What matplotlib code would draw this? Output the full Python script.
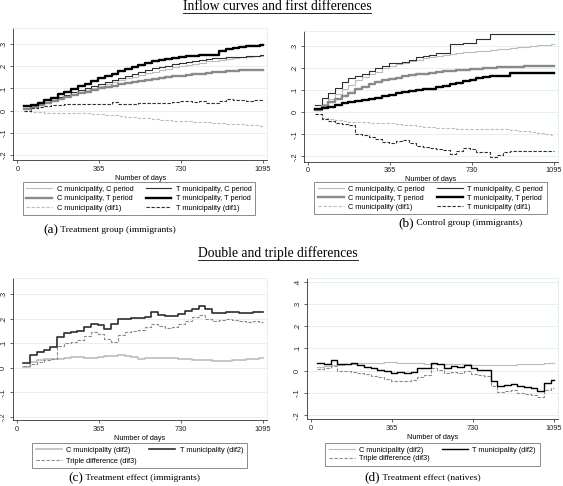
import matplotlib.pyplot as plt
from matplotlib.lines import Line2D

plt.rcParams['font.family'] = ['Liberation Sans', 'DejaVu Sans']

# day grid (steps) shared by all series
DAYS = [30, 60, 90, 120, 150, 180, 210, 240, 270, 300, 330, 360, 390, 420, 450, 480,
        510, 540, 570, 600, 630, 660, 690, 720, 750, 780, 810, 840, 870, 900, 930, 960,
        990, 1020, 1050, 1080, 1095]
X_TICKS = [0, 365, 730, 1095]

# (a) treatment group (immigrants)
A_CC = [0.008, 0.018, 0.027, 0.035, 0.045, 0.056, 0.066, 0.075, 0.084, 0.093, 0.102, 0.111,
        0.120, 0.128, 0.137, 0.145, 0.153, 0.161, 0.168, 0.175, 0.182, 0.189, 0.195, 0.201,
        0.207, 0.212, 0.217, 0.222, 0.226, 0.230, 0.234, 0.237, 0.240, 0.243, 0.245, 0.247, 0.247]
A_TC = [0.010, 0.020, 0.030, 0.038, 0.050, 0.062, 0.072, 0.082, 0.092, 0.101, 0.110, 0.120,
        0.130, 0.139, 0.148, 0.157, 0.166, 0.175, 0.183, 0.190, 0.197, 0.203, 0.210, 0.216,
        0.221, 0.226, 0.230, 0.233, 0.236, 0.238, 0.240, 0.242, 0.244, 0.246, 0.248, 0.250, 0.250]
A_CT = [0.008, 0.017, 0.026, 0.034, 0.043, 0.052, 0.061, 0.070, 0.078, 0.086, 0.093, 0.100,
        0.106, 0.112, 0.118, 0.123, 0.128, 0.133, 0.138, 0.142, 0.146, 0.150, 0.154, 0.158,
        0.161, 0.164, 0.167, 0.170, 0.173, 0.176, 0.178, 0.180, 0.182, 0.183, 0.184, 0.185, 0.185]
A_TT = [0.020, 0.027, 0.036, 0.047, 0.058, 0.074, 0.085, 0.099, 0.112, 0.122, 0.135, 0.145,
        0.157, 0.167, 0.178, 0.188, 0.197, 0.207, 0.215, 0.222, 0.230, 0.235, 0.239, 0.242,
        0.246, 0.248, 0.250, 0.251, 0.252, 0.270, 0.276, 0.281, 0.286, 0.290, 0.293, 0.296, 0.296]
A_CD = [0.000, -0.004, -0.007, -0.009, -0.010, -0.012, -0.012, -0.010, -0.011, -0.012, -0.013,
        -0.015, -0.018, -0.021, -0.024, -0.027, -0.029, -0.032, -0.035, -0.038, -0.041, -0.043,
        -0.045, -0.047, -0.048, -0.050, -0.051, -0.053, -0.054, -0.056, -0.058, -0.060, -0.062,
        -0.064, -0.066, -0.068, -0.068]
A_TD = [0.000, 0.012, 0.017, 0.022, 0.025, 0.026, 0.028, 0.030, 0.031, 0.031, 0.032, 0.032,
        0.031, 0.037, 0.032, 0.030, 0.031, 0.033, 0.034, 0.035, 0.034, 0.036, 0.040, 0.045,
        0.042, 0.040, 0.043, 0.036, 0.033, 0.045, 0.052, 0.050, 0.046, 0.044, 0.046, 0.047, 0.047]

# (b) control group (immigrants)
B_CC = [0.012, 0.038, 0.062, 0.085, 0.105, 0.125, 0.145, 0.160, 0.172, 0.185, 0.200, 0.210,
        0.218, 0.226, 0.234, 0.240, 0.246, 0.252, 0.258, 0.262, 0.266, 0.270, 0.273, 0.276,
        0.278, 0.280, 0.283, 0.286, 0.289, 0.292, 0.295, 0.298, 0.301, 0.304, 0.307, 0.311, 0.313]
B_TC = [0.033, 0.064, 0.090, 0.112, 0.138, 0.155, 0.163, 0.172, 0.188, 0.200, 0.210, 0.223,
        0.225, 0.228, 0.240, 0.250, 0.256, 0.262, 0.268, 0.272, 0.310, 0.312, 0.314, 0.315,
        0.333, 0.335, 0.355, 0.355, 0.355, 0.355, 0.355, 0.355, 0.355, 0.355, 0.355, 0.355, 0.355]
B_CT = [0.012, 0.028, 0.045, 0.060, 0.075, 0.090, 0.104, 0.116, 0.127, 0.137, 0.146, 0.151,
        0.157, 0.163, 0.168, 0.172, 0.176, 0.180, 0.183, 0.186, 0.189, 0.192, 0.194, 0.196,
        0.198, 0.200, 0.202, 0.204, 0.205, 0.206, 0.208, 0.209, 0.210, 0.210, 0.211, 0.212, 0.212]
B_TT = [0.015, 0.020, 0.025, 0.033, 0.040, 0.047, 0.052, 0.056, 0.060, 0.066, 0.072, 0.080,
        0.086, 0.092, 0.097, 0.100, 0.104, 0.108, 0.114, 0.120, 0.128, 0.135, 0.143, 0.148,
        0.155, 0.160, 0.165, 0.167, 0.167, 0.177, 0.177, 0.177, 0.177, 0.177, 0.177, 0.177, 0.177]
B_CD = [-0.010, -0.025, -0.032, -0.036, -0.040, -0.042, -0.044, -0.046, -0.048, -0.049, -0.050,
        -0.051, -0.053, -0.056, -0.060, -0.063, -0.066, -0.068, -0.070, -0.071, -0.073, -0.075,
        -0.076, -0.077, -0.077, -0.078, -0.077, -0.077, -0.078, -0.080, -0.083, -0.087, -0.091,
        -0.095, -0.099, -0.102, -0.103]
B_TD = [-0.010, -0.030, -0.040, -0.050, -0.055, -0.060, -0.098, -0.105, -0.112, -0.120, -0.135,
        -0.140, -0.130, -0.126, -0.140, -0.155, -0.158, -0.162, -0.167, -0.170, -0.190, -0.175,
        -0.163, -0.165, -0.180, -0.182, -0.203, -0.195, -0.183, -0.177, -0.177, -0.177, -0.177,
        -0.177, -0.177, -0.177, -0.177]

# (c) treatment effect (immigrants)
C_CD = [0.005, 0.022, 0.032, 0.035, 0.036, 0.037, 0.038, 0.045, 0.042, 0.041, 0.041, 0.042,
        0.046, 0.048, 0.050, 0.048, 0.045, 0.036, 0.038, 0.040, 0.040, 0.038, 0.039, 0.037,
        0.035, 0.033, 0.032, 0.031, 0.028, 0.027, 0.028, 0.030, 0.033, 0.035, 0.037, 0.038, 0.038]
C_TD = [0.020, 0.050, 0.065, 0.072, 0.085, 0.125, 0.140, 0.145, 0.150, 0.165, 0.178, 0.175,
        0.158, 0.180, 0.200, 0.200, 0.202, 0.204, 0.206, 0.228, 0.215, 0.210, 0.210, 0.218,
        0.230, 0.238, 0.250, 0.240, 0.225, 0.225, 0.228, 0.226, 0.225, 0.222, 0.228, 0.226, 0.226]
C_TR = [0.008, 0.015, 0.025, 0.030, 0.035, 0.090, 0.100, 0.105, 0.115, 0.130, 0.145, 0.137,
        0.118, 0.107, 0.135, 0.145, 0.150, 0.155, 0.165, 0.180, 0.170, 0.162, 0.168, 0.180,
        0.190, 0.205, 0.215, 0.200, 0.190, 0.195, 0.198, 0.195, 0.190, 0.188, 0.190, 0.188, 0.188]

# (d) treatment effect (natives)
D_CD = [0.015, 0.020, 0.024, 0.027, 0.030, 0.032, 0.034, 0.035, 0.036, 0.036, 0.037, 0.037,
        0.036, 0.035, 0.034, 0.033, 0.032, 0.031, 0.030, 0.030, 0.029, 0.028, 0.028, 0.027,
        0.026, 0.025, 0.025, 0.025, 0.026, 0.027, 0.028, 0.029, 0.030, 0.031, 0.033, 0.035, 0.036]
D_TD = [0.035, 0.030, 0.048, 0.028, 0.030, 0.036, 0.025, 0.018, 0.012, 0.005, -0.002, -0.012,
        -0.006, -0.010, -0.005, 0.012, 0.010, 0.035, 0.030, 0.012, 0.020, 0.015, 0.025, 0.012,
        0.005, 0.002, -0.045, -0.070, -0.065, -0.058, -0.070, -0.075, -0.078, -0.090, -0.055,
        -0.042, -0.042]
D_TR = [0.007, 0.012, 0.020, 0.000, -0.003, -0.007, -0.010, -0.014, -0.022, -0.030, -0.037,
        -0.045, -0.047, -0.045, -0.040, -0.027, -0.020, 0.010, 0.005, -0.012, -0.005, -0.012,
        0.000, -0.015, -0.020, -0.022, -0.070, -0.095, -0.090, -0.088, -0.100, -0.103, -0.108,
        -0.118, -0.088, -0.078, -0.077]

Y_TICKS_ABC = [-0.2, -0.1, 0, 0.1, 0.2, 0.3]
Y_LABELS_ABC = ['-.2', '-.1', '0', '.1', '.2', '.3']
Y_TICKS_D = [-0.2, -0.1, 0, 0.1, 0.2, 0.3, 0.4]
Y_LABELS_D = ['-.2', '-.1', '0', '.1', '.2', '.3', '.4']

LEG_TOP = ['C municipality, C period', 'C municipality, T period', 'C municipality (dif1)',
           'T municipality, C period', 'T municipality, T period', 'T municipality (dif1)']
LEG_BOT = ['C municipality (dif2)', 'Triple difference (dif3)', 'T municipality (dif2)']

GRID = '#e3edf0'
LIGHT = '#bcbcbc'
MID = '#8a8a8a'
DARK = '#2e2e2e'
SERIF = 'Liberation Serif'


def style_axes(ax, ylim, yticks, ylabels):
    ax.set_xlim(-18, 1113)
    ax.set_ylim(*ylim)
    ax.set_xticks(X_TICKS)
    ax.set_xticklabels([str(t) for t in X_TICKS])
    ax.set_yticks(yticks)
    ax.set_yticklabels(ylabels, rotation=90, va='center')
    ax.tick_params(labelsize=5.3, length=2.5, width=0.5, pad=1.5, colors='#222222')
    ax.grid(axis='y', color=GRID, lw=0.6)
    ax.set_axisbelow(True)
    for s in ['top', 'right']:
        ax.spines[s].set_color(GRID)
        ax.spines[s].set_linewidth(0.6)
    for s in ['left', 'bottom']:
        ax.spines[s].set_color('#333333')
        ax.spines[s].set_linewidth(0.6)
    ax.set_xlabel('Number of days', fontsize=5.2, labelpad=1.5)


def add_legend(ax, handles, labels, cx, top, spacing):
    leg = ax.legend(handles, labels, ncol=2, loc='upper center', bbox_to_anchor=(cx, top),
                    bbox_transform=fig.transFigure, fontsize=5.3, fancybox=False,
                    edgecolor='#555555', handlelength=3.5, handletextpad=0.6,
                    columnspacing=1.7, labelspacing=spacing, borderpad=0.5, borderaxespad=0)
    leg.get_frame().set_linewidth(0.6)


def caption(x, y, tag, text):
    fig.text(x, y, tag, ha='right', va='center', family=SERIF, fontsize=9.5)
    fig.text(x, y, ' ' + text, ha='left', va='center', family=SERIF, fontsize=6.8)


fig = plt.figure(figsize=(5.63, 4.86), dpi=100)
W, H = 563.0, 486.0


def axes_px(x0, x1, y0, y1):
    return fig.add_axes([x0 / W, 1 - y1 / H, (x1 - x0) / W, (y1 - y0) / H])


# (a)
ax = axes_px(13.3, 267, 28.3, 160)
h1, = ax.step(DAYS, A_CC, where='post', color=LIGHT, lw=0.8)
h4, = ax.step(DAYS, A_TC, where='post', color=DARK, lw=0.8)
h2, = ax.step(DAYS, A_CT, where='post', color=MID, lw=1.7)
h5, = ax.step(DAYS, A_TT, where='post', color='black', lw=1.7)
h3, = ax.step(DAYS, A_CD, where='post', color=LIGHT, lw=0.8, dashes=(3, 1.5))
h6, = ax.step(DAYS, A_TD, where='post', color=DARK, lw=0.8, dashes=(3, 1.5))
style_axes(ax, (-0.222, 0.371), Y_TICKS_ABC, Y_LABELS_ABC)
add_legend(ax, [h1, h2, h3, h4, h5, h6], LEG_TOP, 139 / W, 1 - 182 / H, 0.3)

# (b)
ax = axes_px(304, 558, 31, 161.7)
h1, = ax.step(DAYS, B_CC, where='post', color=LIGHT, lw=0.8)
h4, = ax.step(DAYS, B_TC, where='post', color=DARK, lw=0.8)
h2, = ax.step(DAYS, B_CT, where='post', color=MID, lw=1.7)
h5, = ax.step(DAYS, B_TT, where='post', color='black', lw=1.7)
h3, = ax.step(DAYS, B_CD, where='post', color=LIGHT, lw=0.8, dashes=(3, 1.5))
h6, = ax.step(DAYS, B_TD, where='post', color=DARK, lw=0.8, dashes=(3, 1.5))
style_axes(ax, (-0.225, 0.37), Y_TICKS_ABC, Y_LABELS_ABC)
add_legend(ax, [h1, h2, h3, h4, h5, h6], LEG_TOP, 430.5 / W, 1 - 182 / H, 0.25)

# (c)
ax = axes_px(12.7, 266.7, 278, 420)
h1, = ax.step(DAYS, C_CD, where='post', color=LIGHT, lw=1.2)
h3, = ax.step(DAYS, C_TR, where='post', color=MID, lw=0.8, dashes=(3, 1.5))
h2, = ax.step(DAYS, C_TD, where='post', color=DARK, lw=1.2)
style_axes(ax, (-0.213, 0.366), Y_TICKS_ABC, Y_LABELS_ABC)
add_legend(ax, [h1, h3, h2], LEG_BOT, 139.5 / W, 1 - 443 / H, 0.5)

# (d)
ax = axes_px(306.7, 558, 278.3, 419)
h1, = ax.step(DAYS, D_CD, where='post', color=LIGHT, lw=0.8)
h3, = ax.step(DAYS, D_TR, where='post', color=MID, lw=0.8, dashes=(3, 1.5))
h2, = ax.step(DAYS, D_TD, where='post', color='black', lw=1.0)
style_axes(ax, (-0.217, 0.415), Y_TICKS_D, Y_LABELS_D)
add_legend(ax, [h1, h3, h2], LEG_BOT, 432.5 / W, 1 - 443 / H, 0.2)

caption(58 / W, 1 - 230 / H, '(a)', 'Treatment group (immigrants)')
caption(414 / W, 1 - 223 / H, '(b)', 'Control group (immigrants)')
caption(83 / W, 1 - 478 / H, '(c)', 'Treatment effect (immigrants)')
caption(380 / W, 1 - 477 / H, '(d)', 'Treatment effect (natives)')

# section titles, underlined
titles = [fig.text(277 / W, 1 - 6 / H, 'Inflow curves and first differences', ha='center',
                   va='center', family=SERIF, fontsize=9.8),
          fig.text(278 / W, 1 - 253 / H, 'Double and triple differences', ha='center',
                   va='center', family=SERIF, fontsize=9.8)]
fig.canvas.draw()
r = fig.canvas.get_renderer()
for t in titles:
    bb = t.get_window_extent(r)
    y = (bb.y0 - 0.3) / fig.bbox.height
    fig.add_artist(Line2D([bb.x0 / fig.bbox.width, bb.x1 / fig.bbox.width], [y, y],
                          color='black', lw=0.6, transform=fig.transFigure))

fig.savefig('out.png', dpi=100)
